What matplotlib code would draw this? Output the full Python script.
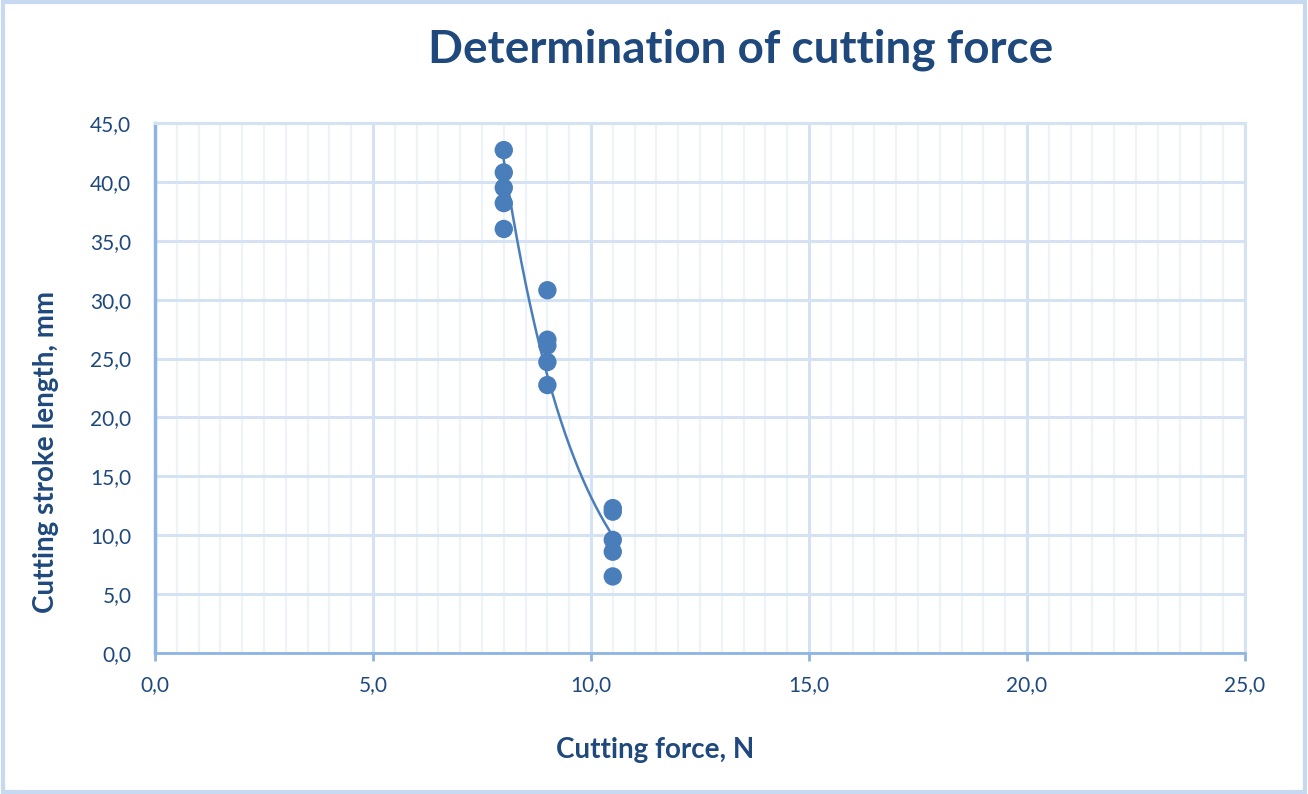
import numpy as np
import matplotlib
matplotlib.use('Agg')
import matplotlib.pyplot as plt
from matplotlib.ticker import MultipleLocator, FuncFormatter
from matplotlib.patches import Rectangle

plt.rcParams['font.family'] = ['Lato', 'DejaVu Sans']

# measured points: cutting force (N) and stroke length (mm)
force = [8.0, 8.0, 8.0, 8.0, 8.0,
         9.0, 9.0, 9.0, 9.0, 9.0,
         10.5, 10.5, 10.5, 10.5, 10.5]
stroke = [42.7, 40.8, 39.5, 38.2, 36.0,
          30.8, 26.6, 26.1, 24.7, 22.75,
          12.3, 12.0, 9.6, 8.6, 6.5]

title = 'Determination of cutting force'
xlabel = 'Cutting force, N'
ylabel = 'Cutting stroke length, mm'

text_col = '#1F497D'
dot_col = '#4A7EBB'
major_grid = '#D5E2F3'
minor_grid = '#EEF3FA'
axis_col = '#8EB4E3'

fig = plt.figure(figsize=(13.08, 7.94), dpi=100)
ax = fig.add_axes([0.1185, 0.1776, 0.8333, 0.6675])

# exponential trendline: ln(y) fitted linearly in x
b, ln_a = np.polyfit(force, np.log(stroke), 1)
xs = np.linspace(min(force), max(force), 200)
ax.plot(xs, np.exp(ln_a + b * xs), color=dot_col, lw=1.8, zorder=3)
ax.scatter(force, stroke, s=175, color=dot_col, edgecolors='none', zorder=4)

ax.set_xlim(0, 25)
ax.set_ylim(0, 45)
ax.xaxis.set_major_locator(MultipleLocator(5))
ax.xaxis.set_minor_locator(MultipleLocator(0.5))
ax.yaxis.set_major_locator(MultipleLocator(5))
fmt = FuncFormatter(lambda v, p: f'{v:.1f}'.replace('.', ','))
ax.xaxis.set_major_formatter(fmt)
ax.yaxis.set_major_formatter(fmt)

ax.grid(which='major', color=major_grid, lw=2.2, zorder=0)
ax.grid(which='minor', axis='x', color=minor_grid, lw=1.6, zorder=0)
ax.set_axisbelow(True)

for s in ['top', 'right']:
    ax.spines[s].set_color(major_grid)
    ax.spines[s].set_linewidth(2.2)
ax.spines['left'].set_color(axis_col)
ax.spines['left'].set_linewidth(2.5)
ax.spines['bottom'].set_color(axis_col)
ax.spines['bottom'].set_linewidth(2.0)

ax.tick_params(axis='x', which='major', length=6, width=2, color=axis_col,
               labelsize=15, labelcolor=text_col, pad=10)
ax.tick_params(axis='x', which='minor', length=0)
ax.tick_params(axis='y', length=0, labelsize=15, labelcolor=text_col, pad=17)

fig.text(0.566, 0.937, title, ha='center', va='center', fontsize=33,
         fontweight='bold', color=text_col)
fig.text(0.501, 0.055, xlabel, ha='center', va='center', fontsize=20,
         fontweight='bold', color=text_col)
fig.text(0.035, 0.431, ylabel, ha='center', va='center', rotation=90,
         fontsize=20, fontweight='bold', color=text_col)

fig.patches.append(Rectangle((0.002, 0.003), 0.996, 0.994, transform=fig.transFigure,
                             fill=False, edgecolor='#C6D9F1', lw=3))

fig.savefig('out.png', dpi=100)
